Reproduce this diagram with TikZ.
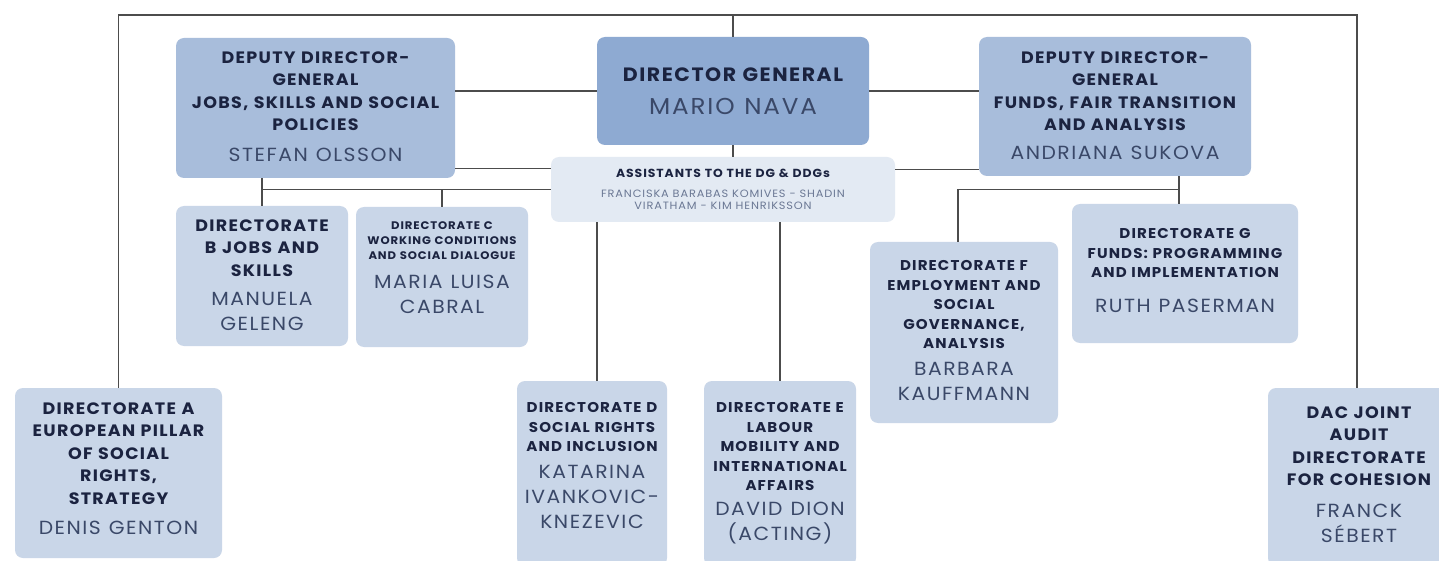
\documentclass[tikz,border=0pt]{standalone}
\usepackage{fontspec}
\setmainfont{Poppins}[LetterSpace=8, FakeStretch=1.06, WordSpace=1.5]
\newfontfamily\personfont{Poppins}[LetterSpace=8, FakeStretch=1.07]

\definecolor{dgfill}{HTML}{8EAAD2}
\definecolor{ddgfill}{HTML}{A8BDDB}
\definecolor{dirfill}{HTML}{C9D6E8}
\definecolor{asfill}{HTML}{E3EAF3}
\definecolor{wirecol}{HTML}{4C4C4C}
\definecolor{ink}{HTML}{1B2340}
\definecolor{namecol}{HTML}{3A4868}
\definecolor{ascol}{HTML}{6B7894}

% person lines under a title block; #1 = extra gap, lines split by \par
\newcommand\who[2][3pt]{\par\vspace{#1}%
  {\personfont\mdseries\fontsize{19}{25}\selectfont\spaceskip=0.42em\color{namecol}#2\par}}

\begin{document}
\begin{tikzpicture}[
  x=1pt, y=-1pt,
  wire/.style={draw=wirecol, line width=1.3pt},
  card/.style={rounded corners=8pt, inner sep=0pt, draw=none},
  dgcard/.style={card, fill=dgfill},
  ddgcard/.style={card, fill=ddgfill},
  dircard/.style={card, fill=dirfill},
  ascard/.style={card, fill=asfill},
  txt/.style={anchor=north, inner sep=0pt, align=center, text=ink, text width=#1},
  txt/.default=200pt,
  ttlbig/.style={txt=#1, font=\bfseries\fontsize{16.5}{22.5}\selectfont},
  ttlbig/.default=200pt,
  ttlmid/.style={txt=#1, font=\bfseries\fontsize{14.2}{19.5}\selectfont},
  ttlmid/.default=200pt,
  ttlsmall/.style={txt=#1, font=\bfseries\fontsize{11}{15}\selectfont},
  ttlsmall/.default=200pt
]
\useasboundingbox[fill=white] (0,0) rectangle (1439,561);

% boxes
\node[dgcard, minimum width=272pt, minimum height=108pt] (dg) at (733,91) {};
\node[ddgcard, minimum width=279pt, minimum height=140pt] (ddgL) at (315.5,108) {};
\node[ddgcard, minimum width=272pt, minimum height=139pt] (ddgR) at (1115,106.5) {};
\node[ascard, minimum width=344pt, minimum height=65pt] (asst) at (723,189.5) {};
\node[dircard, minimum width=207pt, minimum height=170pt] (dirA) at (118.5,473) {};
\node[dircard, minimum width=172pt, minimum height=140pt] (dirB) at (262,276) {};
\node[dircard, minimum width=172pt, minimum height=140pt] (dirC) at (442,277) {};
\node[dircard, minimum width=150pt, minimum height=185pt] (dirD) at (592,473.5) {};
\node[dircard, minimum width=152pt, minimum height=185pt] (dirE) at (780,473.5) {};
\node[dircard, minimum width=188pt, minimum height=181pt] (dirF) at (964,332.5) {};
\node[dircard, minimum width=226pt, minimum height=139pt] (dirG) at (1185,273.5) {};
\node[dircard, minimum width=178pt, minimum height=178pt] (dac) at (1357,477) {};

% texts
\node[txt=268pt, font=\bfseries\fontsize{19.3}{32}\selectfont] (dg-t) at (733,68)
  {DIRECTOR GENERAL\par
   {\personfont\mdseries\fontsize{23}{33}\selectfont\spaceskip=0.42em\color{namecol}MARIO NAVA\par}};
\node[ttlbig=276pt] (ddgL-t) at (315.5,51.5)
  {DEPUTY DIRECTOR-\\GENERAL\\JOBS, SKILLS AND SOCIAL\\POLICIES\who[6pt]{STEFAN OLSSON}};
\node[ttlbig=268pt] (ddgR-t) at (1115,51.5)
  {DEPUTY DIRECTOR-\\GENERAL\\FUNDS, FAIR TRANSITION\\AND ANALYSIS\who[4pt]{ANDRIANA SUKOVA}};
\node[txt=340pt, font=\bfseries\fontsize{11.7}{20}\selectfont] (asst-t) at (723,169)
  {ASSISTANTS TO THE DG \& DDGs\par
   {\personfont\mdseries\fontsize{10.6}{12}\selectfont\color{ascol}\vspace{8pt}%
   FRANCISKA BARABAS KOMIVES - SHADIN\par VIRATHAM - KIM HENRIKSSON\par}};
\node[ttlbig=205pt] (dirA-t) at (118.5,402.5)
  {DIRECTORATE A\\EUROPEAN PILLAR\\OF SOCIAL\\RIGHTS,\\STRATEGY\who[5pt]{DENIS GENTON}};
\node[ttlbig=170pt] (dirB-t) at (262,219.5)
  {DIRECTORATE\\B JOBS AND\\SKILLS\who[4pt]{MANUELA\par GELENG}};
\node[ttlsmall=170pt] (dirC-t) at (442,221.5)
  {DIRECTORATE C\\WORKING CONDITIONS\\AND SOCIAL DIALOGUE\who[4pt]{MARIA LUISA\par CABRAL}};
\node[ttlmid=148pt] (dirD-t) at (592,402.5)
  {DIRECTORATE D\\SOCIAL RIGHTS\\AND INCLUSION\who[2pt]{KATARINA\par IVANKOVIC-\par KNEZEVIC}};
\node[ttlmid=150pt] (dirE-t) at (780,402.5)
  {DIRECTORATE E\\LABOUR\\MOBILITY AND\\INTERNATIONAL\\AFFAIRS\who[0pt]{DAVID DION\par (ACTING)}};
\node[ttlmid=186pt] (dirF-t) at (964,260.5)
  {DIRECTORATE F\\EMPLOYMENT AND\\SOCIAL\\GOVERNANCE,\\ANALYSIS\who[2pt]{BARBARA\par KAUFFMANN}};
\node[ttlmid=224pt] (dirG-t) at (1185,228.5)
  {DIRECTORATE G\\FUNDS: PROGRAMMING\\AND IMPLEMENTATION\who[10pt]{RUTH PASERMAN}};
\node[ttlbig=176pt] (dac-t) at (1359,406.5)
  {DAC JOINT\\AUDIT\\DIRECTORATE\\FOR COHESION\who[7pt]{FRANCK\par SÉBERT}};

% connectors
\coordinate (top) at (731,15);
\draw[wire] (dirA.north) -- (dirA.north |- top) -- (dac.north |- top) -- (dac.north);
\draw[wire] (dg.north |- top) -- (dg.north);
\draw[wire] (dg.west) -- (ddgL.east |- dg.west);
\draw[wire] (dg.east) -- (ddgR.west |- dg.east);
\draw[wire] (dg.south) -- (dg.south |- asst.north);
\draw[wire] ([yshift=21pt]asst.west) -- ([yshift=21pt]asst.west -| ddgL.east);
\draw[wire] ([yshift=20pt]asst.east) -- ([yshift=20pt]asst.east -| ddgR.west);
\draw[wire] (dirB.north |- ddgL.south) -- (dirB.north);
\draw[wire] (dirB.north |- asst.west) -- (asst.west);
\draw[wire] (dirC.north |- asst.west) -- (dirC.north);
\draw[wire] ([xshift=5pt]dirD.north) -- ([xshift=5pt]dirD.north |- asst.south);
\draw[wire] (dirE.north) -- (dirE.north |- asst.south);
\coordinate (gdrop) at ([xshift=-6pt]dirG.north);
\draw[wire] (gdrop |- ddgR.south) -- (gdrop);
\draw[wire] ([xshift=-6pt]dirF.north) -- ++(0,-52) -| (gdrop);

\end{tikzpicture}
\end{document}
